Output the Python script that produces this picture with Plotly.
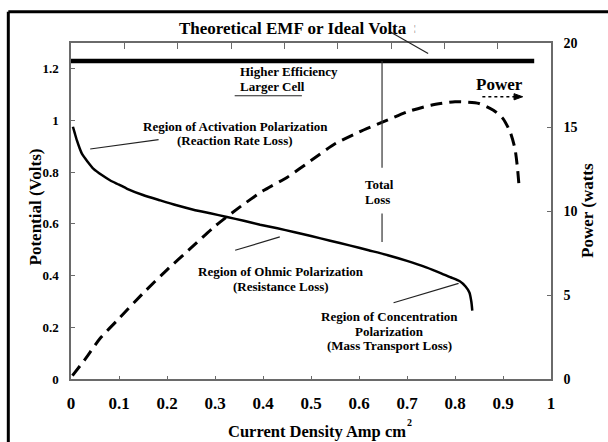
import plotly.graph_objects as go

# ---------------- data ----------------
current = [0.004, 0.008, 0.0125, 0.018, 0.023, 0.035, 0.047, 0.065, 0.082, 0.10,
           0.117, 0.15, 0.186, 0.22, 0.255, 0.29, 0.325, 0.36, 0.394, 0.43,
           0.464, 0.50, 0.54, 0.58, 0.62, 0.66, 0.70, 0.74, 0.77, 0.79,
           0.81, 0.822, 0.83, 0.834, 0.836]
voltage = [0.976, 0.95, 0.922, 0.893, 0.871, 0.84, 0.813, 0.788, 0.768, 0.752,
           0.736, 0.712, 0.691, 0.672, 0.655, 0.641, 0.627, 0.612, 0.597, 0.583,
           0.569, 0.553, 0.535, 0.517, 0.498, 0.479, 0.457, 0.432, 0.410, 0.394,
           0.378, 0.358, 0.335, 0.30, 0.265]

power_current = [0.003, 0.03, 0.06, 0.10, 0.15, 0.20, 0.25, 0.30, 0.35, 0.40,
                 0.45, 0.50, 0.55, 0.60, 0.65, 0.70, 0.75, 0.80, 0.85, 0.88,
                 0.90, 0.915, 0.925, 0.930, 0.934]
power_watts = [0.2, 1.2, 2.4, 3.6, 5.1, 6.5, 7.8, 9.1, 10.2, 11.2,
               12.0, 13.0, 14.0, 14.7, 15.3, 15.9, 16.3, 16.5, 16.4, 16.0,
               15.5, 14.7, 13.7, 12.6, 11.3]

emf_current = [0.0, 0.965]
emf_volts = [1.23, 1.23]

x_ticks = [0, 0.1, 0.2, 0.3, 0.4, 0.5, 0.6, 0.7, 0.8, 0.9, 1]
x_tick_labels = ["0", "0.1", "0.2", "0.3", "0.4", "0.5", "0.6", "0.7", "0.8", "0.9", "1"]
v_ticks = [0, 0.2, 0.4, 0.6, 0.8, 1.0, 1.2]
v_tick_labels = ["0", "0.2", "0.4", "0.6", "0.8", "1", "1.2"]
p_ticks = [0, 5, 10, 15, 20]
p_tick_labels = ["0", "5", "10", "15", "20"]
top_ticks = [0, 1, 2, 3, 4, 5, 6, 7, 8, 9]

FONT = "Liberation Serif"
AXC = "#6a6a6a"

fig = go.Figure()

# helper trace so the top axis exists
fig.add_trace(go.Scatter(x=[0, 9], y=[None, None], xaxis="x2", yaxis="y",
                         mode="lines", showlegend=False, hoverinfo="skip"))

fig.add_trace(go.Scatter(x=emf_current, y=emf_volts, mode="lines",
                         line=dict(color="black", width=4.5), showlegend=False))
fig.add_trace(go.Scatter(x=current, y=voltage, mode="lines",
                         line=dict(color="black", width=2.5, shape="spline", smoothing=0.6),
                         showlegend=False))
fig.add_trace(go.Scatter(x=power_current, y=power_watts, mode="lines", yaxis="y2",
                         line=dict(color="black", width=3, dash="12px,7px",
                                   shape="spline", smoothing=0.6),
                         showlegend=False))

bold = dict(family=FONT, color="black", weight="bold")

# ---------------- text labels ----------------
labels = [
    ("Higher Efficiency", 0.349, 1.190, "left"),
    ("Larger Cell", 0.349, 1.130, "left"),
    ("Region of Activation Polarization", 0.342, 0.976, "center"),
    ("(Reaction Rate Loss)", 0.342, 0.922, "center"),
    ("Region of Ohmic Polarization", 0.437, 0.415, "center"),
    ("(Resistance Loss)", 0.437, 0.357, "center"),
    ("Region of Concentration", 0.663, 0.241, "center"),
    ("Polarization", 0.663, 0.183, "center"),
    ("(Mass Transport Loss)", 0.663, 0.129, "center"),
    ("Total", 0.611, 0.754, "left"),
    ("Loss", 0.611, 0.694, "left"),
]
annotations = []
for text, x, y, anc in labels:
    annotations.append(dict(text=text, x=x, y=y, xref="x", yref="y", xanchor=anc,
                            yanchor="middle", showarrow=False, borderpad=0,
                            font=dict(size=13, **bold)))

annotations.append(dict(text="Power", x=0.893, y=1.141, xref="x", yref="y",
                        xanchor="center", yanchor="middle",
                        showarrow=False, font=dict(size=17, **bold)))

# title and axis titles
annotations.append(dict(text="Theoretical EMF or Ideal Volta", x=0.220, y=1.0437,
                        xref="paper", yref="paper", xanchor="left", yanchor="middle",
                        showarrow=False, font=dict(size=17, **bold)))
annotations.append(dict(text="¦", x=0.710, y=1.044, xref="paper", yref="paper",
                        xanchor="left", yanchor="middle", showarrow=False,
                        font=dict(size=8, family=FONT, color="#444")))
annotations.append(dict(text="Potential (Volts)", x=-0.074, y=0.512, xref="paper",
                        yref="paper", xanchor="center", yanchor="middle",
                        textangle=-90, showarrow=False,
                        font=dict(size=17, **bold)))
annotations.append(dict(text="Power (watts", x=1.077, y=0.503, xref="paper",
                        yref="paper", xanchor="center", yanchor="middle",
                        textangle=-90, showarrow=False,
                        font=dict(size=17, **bold)))
annotations.append(dict(text="Current Density Amp cm", x=0.512, y=-0.155,
                        xref="paper", yref="paper", xanchor="center", yanchor="middle",
                        borderpad=0, showarrow=False, font=dict(size=16.5, **bold)))
annotations.append(dict(text="2", x=0.698, y=-0.128, xref="paper", yref="paper",
                        xanchor="left", yanchor="middle", borderpad=0,
                        showarrow=False, font=dict(size=10, **bold)))

# ---------------- pointer lines / frame ----------------
def seg(x0, y0, x1, y1, ref="data", width=1.2, color="#222", dash=None):
    d = dict(type="line", x0=x0, y0=y0, x1=x1, y1=y1,
             line=dict(color=color, width=width))
    if dash:
        d["line"]["dash"] = dash
    if ref == "data":
        d.update(xref="x", yref="y")
    else:
        d.update(xref="paper", yref="paper")
    return d

shapes = [
    seg(0.341, 1.096, 0.481, 1.096),           # under "Larger Cell"
    seg(0.040, 0.890, 0.1825, 0.926),          # activation pointer
    seg(0.342, 0.498, 0.435, 0.550),           # ohmic pointer
    seg(0.672, 0.295, 0.8075, 0.370),          # concentration pointer
    seg(0.648, 1.23, 0.648, 0.817, color="#333"),   # total loss upper
    seg(0.648, 0.640, 0.648, 0.530, color="#333"),  # total loss lower
    seg(0.857, 1.092, 0.925, 1.092, width=1.5, color="black", dash="3px,3px"),
    # arrow head of the power pointer
    dict(type="path", xref="x", yref="y",
         path="M 0.923,1.104 L 0.941,1.092 L 0.923,1.080 Z",
         fillcolor="black", line=dict(color="black", width=1)),
    seg(0.6646, 1.0336, 0.744, 0.969, ref="paper"),  # title pointer
    # outer frame
    seg(-0.1306, -0.3, -0.1306, 1.0932, ref="paper", width=3, color="black"),
    seg(-0.1306, 1.0932, 1.2, 1.0932, ref="paper", width=3, color="black"),
]

axis_common = dict(showgrid=False, zeroline=False, showline=True, linecolor=AXC,
                   linewidth=1.5, ticks="inside", tickcolor=AXC, tickwidth=1.2)

fig.update_layout(
    width=608, height=442, autosize=False,
    margin=dict(l=71, r=57, t=43, b=63, pad=0),
    paper_bgcolor="white", plot_bgcolor="white",
    showlegend=False,
    xaxis=dict(range=[0, 1], tickvals=x_ticks, ticktext=x_tick_labels,
               ticklen=3, tickfont=dict(size=17, **bold), ticklabelstandoff=8,
               fixedrange=True, **axis_common),
    xaxis2=dict(range=[0, 9], tickvals=top_ticks, overlaying="x", side="top",
                anchor="y", ticklen=6, showticklabels=False, **axis_common),
    yaxis=dict(range=[0, 1.3], tickvals=v_ticks, ticktext=v_tick_labels,
               ticklen=4, tickfont=dict(size=13, **bold), ticklabelstandoff=8,
               **axis_common),
    yaxis2=dict(range=[0, 20], tickvals=p_ticks, ticktext=p_tick_labels,
                overlaying="y", side="right", anchor="x", ticklen=4,
                tickfont=dict(size=14, **bold), ticklabelstandoff=8, **axis_common),
    annotations=annotations,
    shapes=shapes,
)

fig.write_html("out.html")
